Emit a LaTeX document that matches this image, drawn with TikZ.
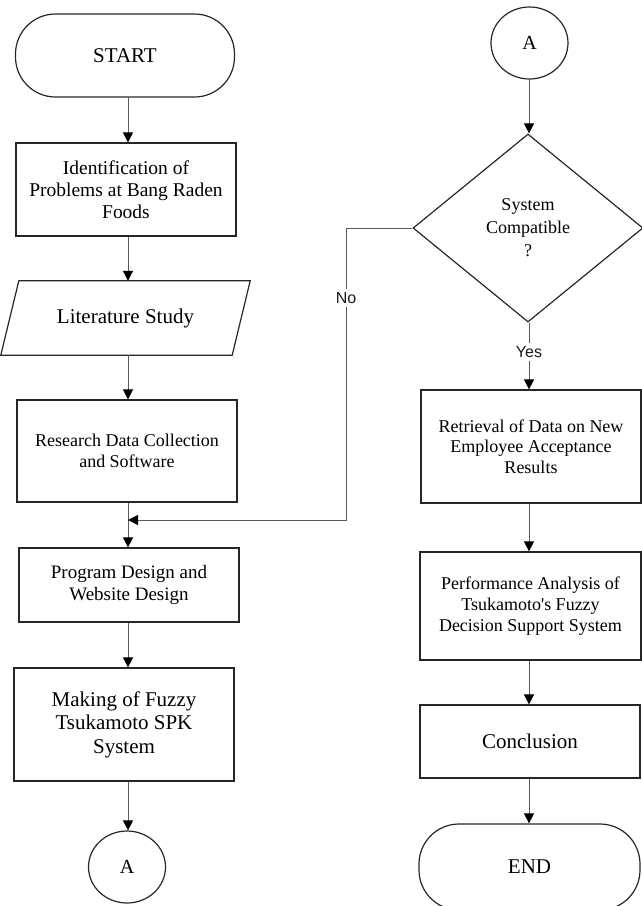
\documentclass[tikz,border=0pt]{standalone}
\usepackage{fontspec}
\setmainfont{Liberation Serif}
\newfontfamily\labfont{Liberation Sans}
\usetikzlibrary{shapes.geometric,arrows.meta}

\begin{document}
\begin{tikzpicture}[x=1pt,y=-1pt,
  box/.style={draw=black!85,line width=1.2pt,inner sep=0pt,align=center,text=black},
  proc/.style={box,minimum width=220pt},
  term/.style={box,rounded corners=40pt,minimum width=219pt},
  conn/.style={box,ellipse,minimum width=77pt,minimum height=72pt,
    font=\fontsize{20}{24}\selectfont},
  decide/.style={box,diamond,minimum width=230pt,minimum height=188pt,
    font=\fontsize{18}{23}\selectfont},
  arr/.style={draw=black!65,line width=1pt,
    -{Triangle[width=10pt,length=10pt,color=black]}},
  lbl/.style={fill=white,inner sep=3pt,text=black!90,
    font=\labfont\fontsize{16}{19}\selectfont}
]
\useasboundingbox (0,0) rectangle (642,906);

% column axes for the vertical connectors
\coordinate (cl) at (128,0);
\coordinate (cr) at (529,0);

% ---------- left column ----------
\node[term,minimum height=83pt,font=\fontsize{21}{24}\selectfont]
  (start) at (125,55.5) {START};
\node[proc,minimum height=93pt,font=\fontsize{19.5}{22}\selectfont]
  (ident) at (126,189.5) {Identification of\\Problems at Bang Raden\\Foods};
\node[inner sep=0pt,minimum width=231pt,minimum height=74pt,
  font=\fontsize{21}{24}\selectfont] (lit) at (125.5,318) {Literature Study};
\draw[draw=black!85,line width=1.2pt]
  ([xshift=9pt]lit.north west) -- ([xshift=9pt]lit.north east)
  -- ([xshift=-9pt]lit.south east) -- ([xshift=-9pt]lit.south west) -- cycle;
\node[proc,minimum height=102pt,font=\fontsize{18}{21.5}\selectfont]
  (collect) at (127,451) {Research Data Collection\\and Software};
\node[proc,minimum height=74pt,font=\fontsize{19}{22}\selectfont]
  (design) at (129,585) {Program Design and\\Website Design};
\node[proc,minimum height=113pt,font=\fontsize{21}{23.5}\selectfont]
  (making) at (124,724.5) {Making of Fuzzy\\Tsukamoto SPK\\System};
\node[conn] (aout) at (127,867) {A};

\draw[arr] (start.south -| cl) -- (ident.north -| cl);
\draw[arr] (ident.south -| cl) -- (lit.north -| cl);
\draw[arr] (lit.south -| cl) -- (collect.north -| cl);
\draw[arr] (collect.south -| cl) -- (design.north -| cl);
\draw[arr] (design.south -| cl) -- (making.north -| cl);
\draw[arr] (making.south -| cl) -- (aout.north -| cl);

% ---------- right column ----------
\node[conn] (ain) at (529.5,43) {A};
\node[decide] (check) at (528,228) {System\\Compatible\\?};
\node[proc,minimum height=113pt,font=\fontsize{18}{20.5}\selectfont]
  (retrieve) at (531,446.5) {Retrieval of Data on New\\Employee Acceptance\\Results};
\node[proc,minimum width=221pt,minimum height=108pt,font=\fontsize{18}{21}\selectfont]
  (analysis) at (530.5,606) {Performance Analysis of\\Tsukamoto\textquotesingle s Fuzzy\\Decision Support System};
\node[proc,minimum height=73pt,font=\fontsize{21}{24}\selectfont]
  (concl) at (530,741.5) {Conclusion};
\node[term,minimum width=221pt,minimum height=86pt,font=\fontsize{21}{24}\selectfont]
  (finish) at (529.5,867) {END};

\draw[arr] (ain.south -| cr) -- (check.north -| cr);
\draw[arr] (check.south -| cr) -- (retrieve.north -| cr);
\draw[arr] (retrieve.south -| cr) -- (analysis.north -| cr);
\draw[arr] (analysis.south -| cr) -- (concl.north -| cr);
\draw[arr] (concl.south -| cr) -- (finish.north -| cr);

% "No" branch back into the left column
\coordinate (nobend) at (346,520);
\coordinate (merge) at (128,520);
\draw[arr] (check.west) -| (nobend) -- (merge);

\node[lbl] at (346,298) {No};
\node[lbl] at (529,352) {Yes};
\end{tikzpicture}
\end{document}
